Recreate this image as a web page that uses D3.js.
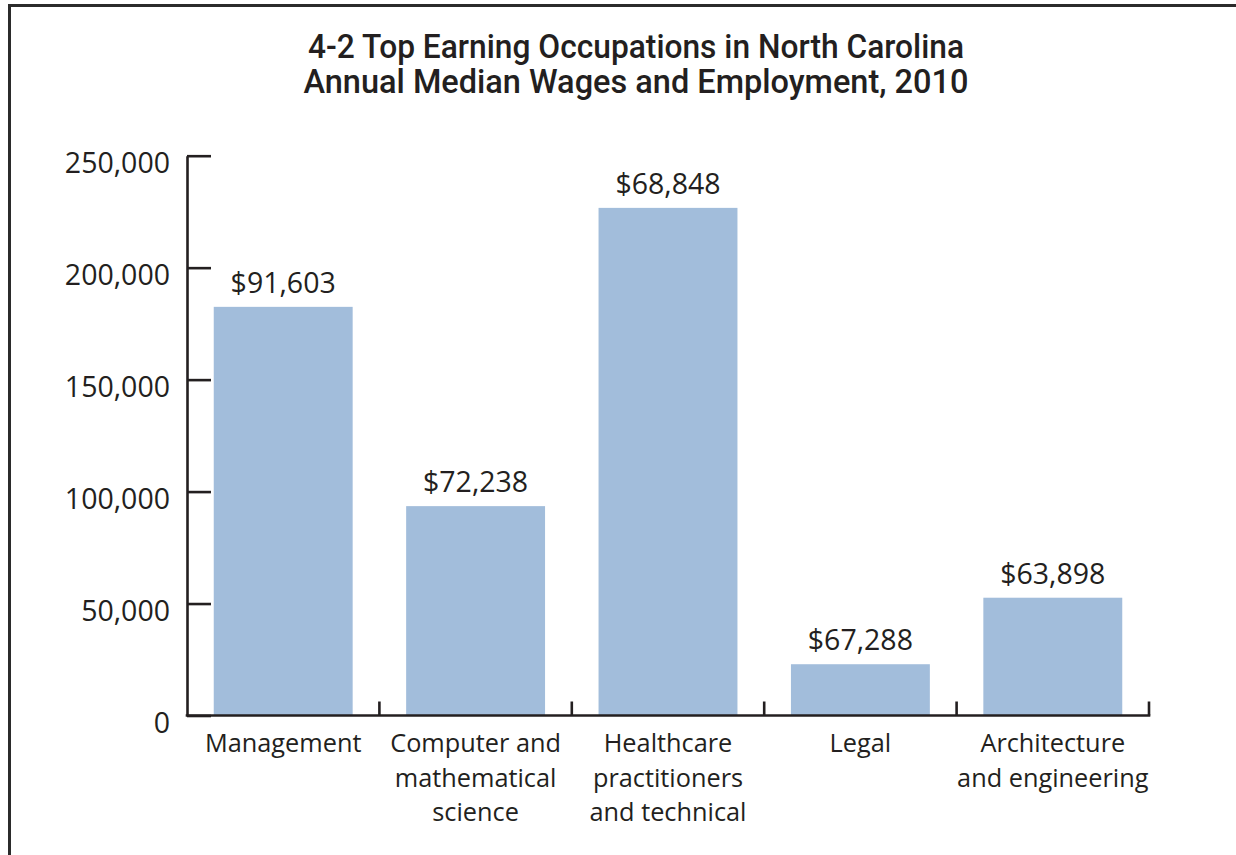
<!DOCTYPE html>
<html>
<head>
<meta charset="utf-8">
<script src="https://cdn.jsdelivr.net/npm/d3@7"></script>
<style>
  html, body { margin: 0; padding: 0; background: #fff; }
  svg { display: block; }
</style>
</head>
<body>
<svg id="chart" width="1236" height="855"></svg>
<script>
const titleLines = ["4-2 Top Earning Occupations in North Carolina", "Annual Median Wages and Employment, 2010"];
const categories = ["Management", "Computer and mathematical science", "Healthcare practitioners and technical", "Legal", "Architecture and engineering"];
const categoryLines = [["Management"], ["Computer and", "mathematical", "science"], ["Healthcare", "practitioners", "and technical"], ["Legal"], ["Architecture", "and engineering"]];
const employment = [182500, 93500, 226700, 22900, 52600];
const wageLabels = ["$91,603", "$72,238", "$68,848", "$67,288", "$63,898"];
const yTicks = [0, 50000, 100000, 150000, 200000, 250000];

const svg = d3.select("#chart");
const ink = "#231f20";
const barColor = "#a2bddb";

// frame
svg.append("rect")
  .attr("x", 9.5).attr("y", 5.5)
  .attr("width", 1260).attr("height", 900)
  .attr("fill", "none").attr("stroke", "#2b2b2b").attr("stroke-width", 3);

// title
const titleW = [656, 665];
titleLines.forEach((t, i) => {
  svg.append("text")
    .attr("x", 636).attr("y", 58 + i * 35)
    .attr("text-anchor", "middle")
    .attr("font-family", "Roboto, 'Liberation Sans', sans-serif")
    .attr("font-weight", 500)
    .attr("font-size", 32.5)
    .attr("fill", ink)
    .attr("textLength", titleW[i])
    .attr("lengthAdjust", "spacingAndGlyphs")
    .text(t);
});

const x = d3.scaleBand().domain(categories).range([187, 1149]).paddingInner(0.278).paddingOuter(0.139);
const y = d3.scaleLinear().domain([0, 250000]).range([715.5, 155.7]);

// bars
svg.append("g").selectAll("rect").data(categories).join("rect")
  .attr("x", d => x(d))
  .attr("y", (d, i) => y(employment[i]))
  .attr("width", x.bandwidth())
  .attr("height", (d, i) => y(0) - y(employment[i]))
  .attr("fill", barColor);

// value labels
svg.append("g").selectAll("text").data(categories).join("text")
  .attr("x", d => x(d) + x.bandwidth() / 2)
  .attr("y", (d, i) => y(employment[i]) - 14)
  .attr("text-anchor", "middle")
  .attr("font-family", "'Open Sans', sans-serif")
  .attr("font-size", 28.5)
  .attr("fill", ink)
  .text((d, i) => wageLabels[i]);

// y axis
const yAxis = d3.axisLeft(y).tickValues(yTicks).tickFormat(d3.format(","))
  .tickSizeInner(-24).tickSizeOuter(0).tickPadding(17);
const gy = svg.append("g").attr("transform", "translate(187,0)").call(yAxis);
gy.select(".domain").attr("stroke", ink).attr("stroke-width", 2.6);
gy.selectAll(".tick line").attr("stroke", ink).attr("stroke-width", 2.6);
gy.selectAll(".tick text")
  .attr("font-family", "'Open Sans', sans-serif")
  .attr("font-size", 28.5)
  .attr("fill", ink)
  .attr("dy", "0.6em");

// x axis baseline
const [x0, x1] = x.range();
svg.append("line")
  .attr("x1", x0 - 1.3).attr("x2", x1 + 1.3)
  .attr("y1", y(0)).attr("y2", y(0))
  .attr("stroke", ink).attr("stroke-width", 2.6);

// x ticks at category boundaries (pointing up)
const gap = (x.step() - x.bandwidth()) / 2;
const bounds = categories.slice(1).map(d => x(d) - gap).concat([x1]);
svg.append("g").selectAll("line").data(bounds).join("line")
  .attr("x1", d => d).attr("x2", d => d)
  .attr("y1", y(0)).attr("y2", y(0) - 14)
  .attr("stroke", ink).attr("stroke-width", 2.6);

// category labels
const gx = svg.append("g");
categories.forEach((c, i) => {
  const t = gx.append("text")
    .attr("text-anchor", "middle")
    .attr("font-family", "'Open Sans', sans-serif")
    .attr("font-size", 25.3)
    .attr("fill", ink);
  categoryLines[i].forEach((ln, j) => {
    t.append("tspan")
      .attr("x", x(c) + x.bandwidth() / 2)
      .attr("y", 752 + j * 34.5)
      .text(ln);
  });
});
</script>
</body>
</html>
